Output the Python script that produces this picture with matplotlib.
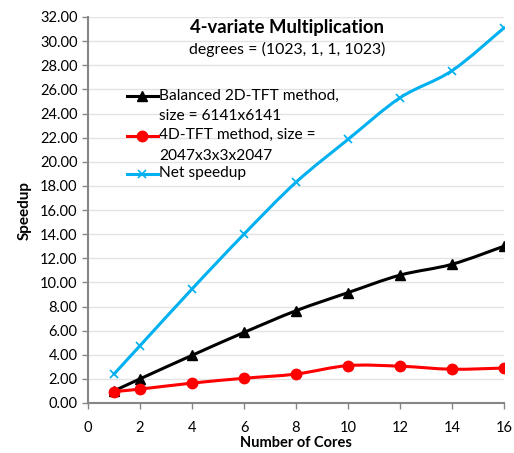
import numpy as np
import matplotlib.pyplot as plt
from matplotlib.path import Path
from matplotlib.patches import PathPatch
from matplotlib.lines import Line2D

plt.rcParams['font.family'] = ['Lato', 'DejaVu Sans']

# data
cores = [1, 2, 4, 6, 8, 10, 12, 14, 16]
balanced_2d = [1.00, 2.00, 3.95, 5.85, 7.65, 9.15, 10.60, 11.50, 13.00]
tft_4d = [0.95, 1.15, 1.65, 2.05, 2.40, 3.10, 3.05, 2.80, 2.90]
net_speedup = [2.40, 4.75, 9.45, 14.00, 18.30, 21.85, 25.30, 27.55, 31.10]

labels = ['Balanced 2D-TFT method,\nsize = 6141x6141',
          '4D-TFT method, size =\n2047x3x3x2047',
          'Net speedup']
colors = ['black', '#FF0000', '#00B0F0']
markers = ['^', 'o', 'x']
msizes = [7, 7.5, 6]

fig = plt.figure(figsize=(5.14, 4.53), dpi=100)
ax = fig.add_axes([88/514, 1-403/453, 416/514, 386/453])


def smooth_path(x, y):
    # excel style smoothed line: cubic bezier through each point
    pts = np.column_stack([x, y]).astype(float)
    n = len(pts)
    verts = [pts[0]]
    codes = [Path.MOVETO]
    for i in range(n - 1):
        p0 = pts[i - 1] if i > 0 else pts[i]
        p1 = pts[i]
        p2 = pts[i + 1]
        p3 = pts[i + 2] if i + 2 < n else pts[i + 1]
        c1 = p1 + (p2 - p0) / 6
        c2 = p2 - (p3 - p1) / 6
        verts += [c1, c2, p2]
        codes += [Path.CURVE4] * 3
    return Path(verts, codes)


for ys, c, m, ms in zip([balanced_2d, tft_4d, net_speedup], colors, markers, msizes):
    ax.add_patch(PathPatch(smooth_path(cores, ys), fill=False, edgecolor=c,
                           lw=2.2, zorder=3, capstyle='round'))
    ax.plot(cores, ys, linestyle='none', marker=m, color=c, ms=ms,
            mew=1.2 if m == 'x' else 1, zorder=4)

ax.set_xlim(0, 16)
ax.set_ylim(0, 32)
ax.set_xticks(range(0, 17, 2))
ax.set_yticks(range(0, 33, 2))
ax.set_yticklabels(['%.2f' % v for v in range(0, 33, 2)])
ax.tick_params(labelsize=10.5, colors='#868686', labelcolor='black',
               length=4, width=1)
ax.tick_params(axis='x', pad=9)
ax.grid(axis='y', color='#e3e3e3', lw=1)
ax.set_axisbelow(True)
for s in ['top', 'right']:
    ax.spines[s].set_visible(False)
for s in ['left', 'bottom']:
    ax.spines[s].set_color('#868686')
    ax.spines[s].set_linewidth(1.5)

ax.set_xlabel('Number of Cores', fontsize=10.5, fontweight='bold', labelpad=1)
ax.set_ylabel('Speedup', fontsize=11, fontweight='bold', labelpad=6)

ax.text(0.478, 0.972, '4-variate Multiplication', transform=ax.transAxes,
        ha='center', va='center', fontsize=13.3, fontweight='bold')
ax.text(0.478, 0.917, 'degrees = (1023, 1, 1, 1023)', transform=ax.transAxes,
        ha='center', va='center', fontsize=11.4)

# legend drawn by hand so the marker sits on the first text line
leg_y = [0.795, 0.692, 0.593]
for yy, lab, c, m, ms in zip(leg_y, labels, colors, markers, msizes):
    ax.add_line(Line2D([0.094, 0.168], [yy, yy], transform=ax.transAxes,
                       color=c, lw=2.2, zorder=5))
    ax.add_line(Line2D([0.131], [yy], transform=ax.transAxes, color=c,
                       marker=m, ms=ms, mew=1.2 if m == 'x' else 1, zorder=5))
    ax.text(0.171, yy + 0.02, lab, transform=ax.transAxes, ha='left', va='top',
            fontsize=11.2, linespacing=1.6)

fig.savefig('out.png', dpi=100)
